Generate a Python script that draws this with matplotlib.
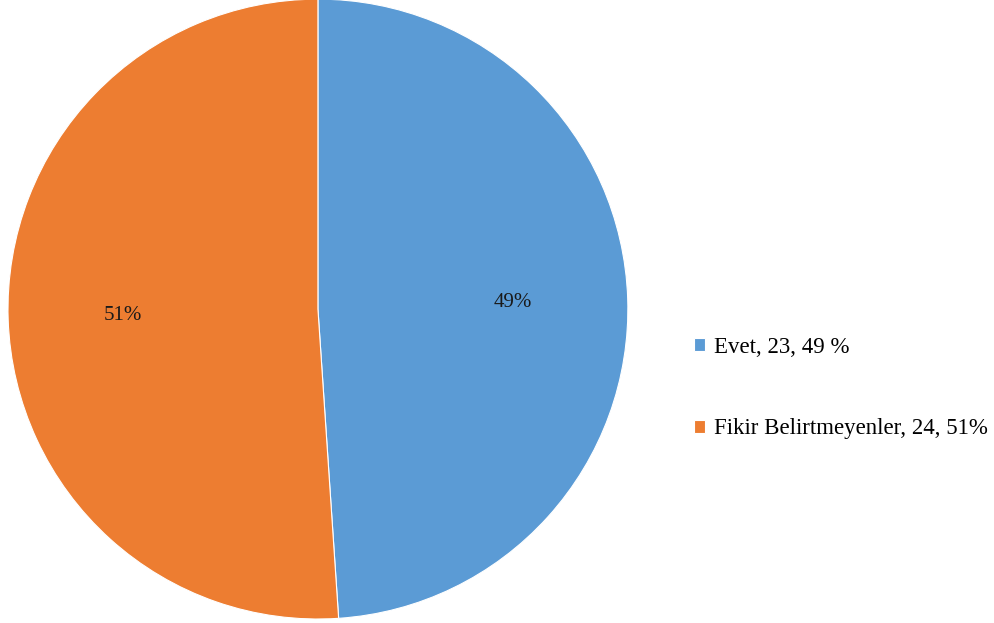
import matplotlib.pyplot as plt

labels = ['Evet', 'Fikir Belirtmeyenler']
counts = [23, 24]
legend_labels = ['Evet, 23, 49 %', 'Fikir Belirtmeyenler, 24, 51%']
colors = ['#5B9BD5', '#ED7D31']

plt.rcParams['font.family'] = ['Liberation Serif', 'DejaVu Serif']

fig = plt.figure(figsize=(9.94, 6.23), dpi=100)
ax = fig.add_axes([0.008, 0.0064, 0.6237, 0.995])
wedges, texts, autotexts = ax.pie(counts, colors=colors, startangle=90, counterclock=False,
                                  autopct='%1.0f%%', pctdistance=0.63,
                                  wedgeprops=dict(edgecolor='white', linewidth=0.8),
                                  textprops=dict(fontsize=15, color='#1a1a1a'))
ax.set_xlim(-1, 1)
ax.set_ylim(-1, 1)
ax.set_aspect('equal')

fig.legend(wedges, legend_labels, loc='center left', bbox_to_anchor=(0.698, 0.377),
           bbox_transform=fig.transFigure, frameon=False, fontsize=16.5,
           handlelength=0.5, handleheight=0.5, handletextpad=0.4,
           labelspacing=2.65, borderpad=0, borderaxespad=0)

fig.savefig('out.png', dpi=100)
